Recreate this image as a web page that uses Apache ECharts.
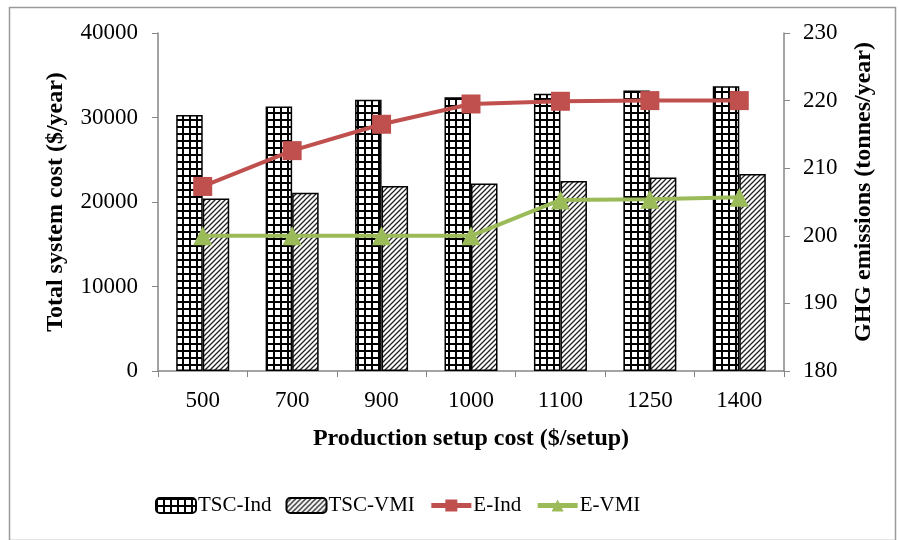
<!DOCTYPE html>
<html>
<head>
<meta charset="utf-8">
<script src="https://cdn.jsdelivr.net/npm/echarts@6/dist/echarts.min.js"></script>
<style>html,body{margin:0;padding:0;background:#fff}#c{width:900px;height:540px}</style>
</head>
<body>
<div id="c"></div>
<script>
var categories = ['500', '700', '900', '1000', '1100', '1250', '1400'];
var tscInd = [30300, 31300, 32100, 32400, 32800, 33200, 33700];
var tscVmi = [20400, 21100, 21900, 22200, 22500, 22900, 23300];
var eInd = [207.3, 212.6, 216.5, 219.5, 219.9, 220, 220];
var eVmi = [200, 200, 200, 200, 205.3, 205.4, 205.7];
var leftTicks = [0, 10000, 20000, 30000, 40000];
var rightTicks = [180, 190, 200, 210, 220, 230];

function gridPattern() {
  var c = document.createElement('canvas');
  c.width = 7; c.height = 7;
  var g = c.getContext('2d');
  g.fillStyle = '#fff'; g.fillRect(0, 0, 7, 7);
  g.fillStyle = '#000';
  g.fillRect(0, 0, 7, 2);
  g.fillRect(0, 0, 2, 7);
  return c;
}
function hatchPattern() {
  var c = document.createElement('canvas');
  c.width = 5; c.height = 5;
  var g = c.getContext('2d');
  g.fillStyle = '#fff'; g.fillRect(0, 0, 5, 5);
  g.strokeStyle = '#222'; g.lineWidth = 1.3;
  g.beginPath();
  g.moveTo(-1, 6); g.lineTo(6, -1);
  g.moveTo(-1, 1); g.lineTo(1, -1);
  g.moveTo(4, 6); g.lineTo(6, 4);
  g.stroke();
  return c;
}

var font = 'Liberation Serif';
var chart = echarts.init(document.getElementById('c'));
chart.setOption({
  animation: false,
  backgroundColor: '#fff',
  textStyle: { fontFamily: font, color: '#000' },
  graphic: [{
    type: 'rect', left: 7, top: 5,
    shape: { width: 886, height: 533 },
    style: { fill: 'none', stroke: '#9a9a9a', lineWidth: 1.5 }, z: -1
  }],
  grid: { left: 158, right: 116, top: 33, bottom: 169 },
  legend: {
    top: 490, left: 150,
    itemWidth: 40, itemHeight: 15, itemGap: 14,
    textStyle: { fontFamily: font, fontSize: 21, color: '#000', padding: [0, 0, 0, -3] },
    data: [
      { name: 'TSC-Ind' },
      { name: 'TSC-VMI' },
      { name: 'E-Ind', lineStyle: { width: 5 } },
      { name: 'E-VMI', lineStyle: { width: 5 } }
    ]
  },
  xAxis: {
    type: 'category', data: categories,
    axisLine: { lineStyle: { color: '#868686', width: 1.5 } },
    axisTick: { show: true, length: 6, lineStyle: { color: '#868686' } },
    axisLabel: { fontFamily: font, fontSize: 23, color: '#000', margin: 18 },
    name: 'Production setup cost ($/setup)', nameLocation: 'middle', nameGap: 56,
    nameTextStyle: { fontFamily: font, fontSize: 24, fontWeight: 'bold', color: '#000' }
  },
  yAxis: [{
    type: 'value', min: leftTicks[0], max: leftTicks[leftTicks.length - 1], interval: 10000,
    splitLine: { show: false },
    axisLine: { show: true, lineStyle: { color: '#868686', width: 1.5 } },
    axisTick: { show: true, length: 6, lineStyle: { color: '#868686' } },
    axisLabel: { fontFamily: font, fontSize: 23, color: '#000', margin: 20, formatter: function (v) { return String(v); } },
    name: 'Total system cost ($/year)', nameLocation: 'middle', nameGap: 90, nameRotate: 90,
    nameTextStyle: { fontFamily: font, fontSize: 24, fontWeight: 'bold', color: '#000' }
  }, {
    type: 'value', position: 'right', min: rightTicks[0], max: rightTicks[rightTicks.length - 1], interval: 10,
    splitLine: { show: false },
    axisLine: { show: true, lineStyle: { color: '#868686', width: 1.5 } },
    axisTick: { show: true, length: 6, lineStyle: { color: '#868686' } },
    axisLabel: { fontFamily: font, fontSize: 23, color: '#000', margin: 19 },
    name: 'GHG emissions (tonnes/year)', nameLocation: 'middle', nameGap: 68, nameRotate: 90,
    nameTextStyle: { fontFamily: font, fontSize: 24, fontWeight: 'bold', color: '#000', padding: [0, 0, 0, 20] }
  }],
  series: [{
    name: 'TSC-Ind', type: 'bar', data: tscInd, yAxisIndex: 0,
    barWidth: 26.5, barGap: '0%',
    itemStyle: { color: { image: gridPattern(), repeat: 'repeat' }, borderColor: '#000', borderWidth: 1.5 }
  }, {
    name: 'TSC-VMI', type: 'bar', data: tscVmi, yAxisIndex: 0,
    barWidth: 26.5, barGap: '0%',
    itemStyle: { color: { image: hatchPattern(), repeat: 'repeat' }, borderColor: '#000', borderWidth: 1.5 }
  }, {
    name: 'E-Ind', type: 'line', data: eInd, yAxisIndex: 1,
    symbol: 'rect', symbolSize: 19,
    lineStyle: { color: '#C0504D', width: 4 },
    itemStyle: { color: '#C0504D' }
  }, {
    name: 'E-VMI', type: 'line', data: eVmi, yAxisIndex: 1,
    symbol: 'triangle', symbolSize: 19,
    lineStyle: { color: '#9BBB59', width: 4 },
    itemStyle: { color: '#9BBB59' }
  }]
});
</script>
</body>
</html>
